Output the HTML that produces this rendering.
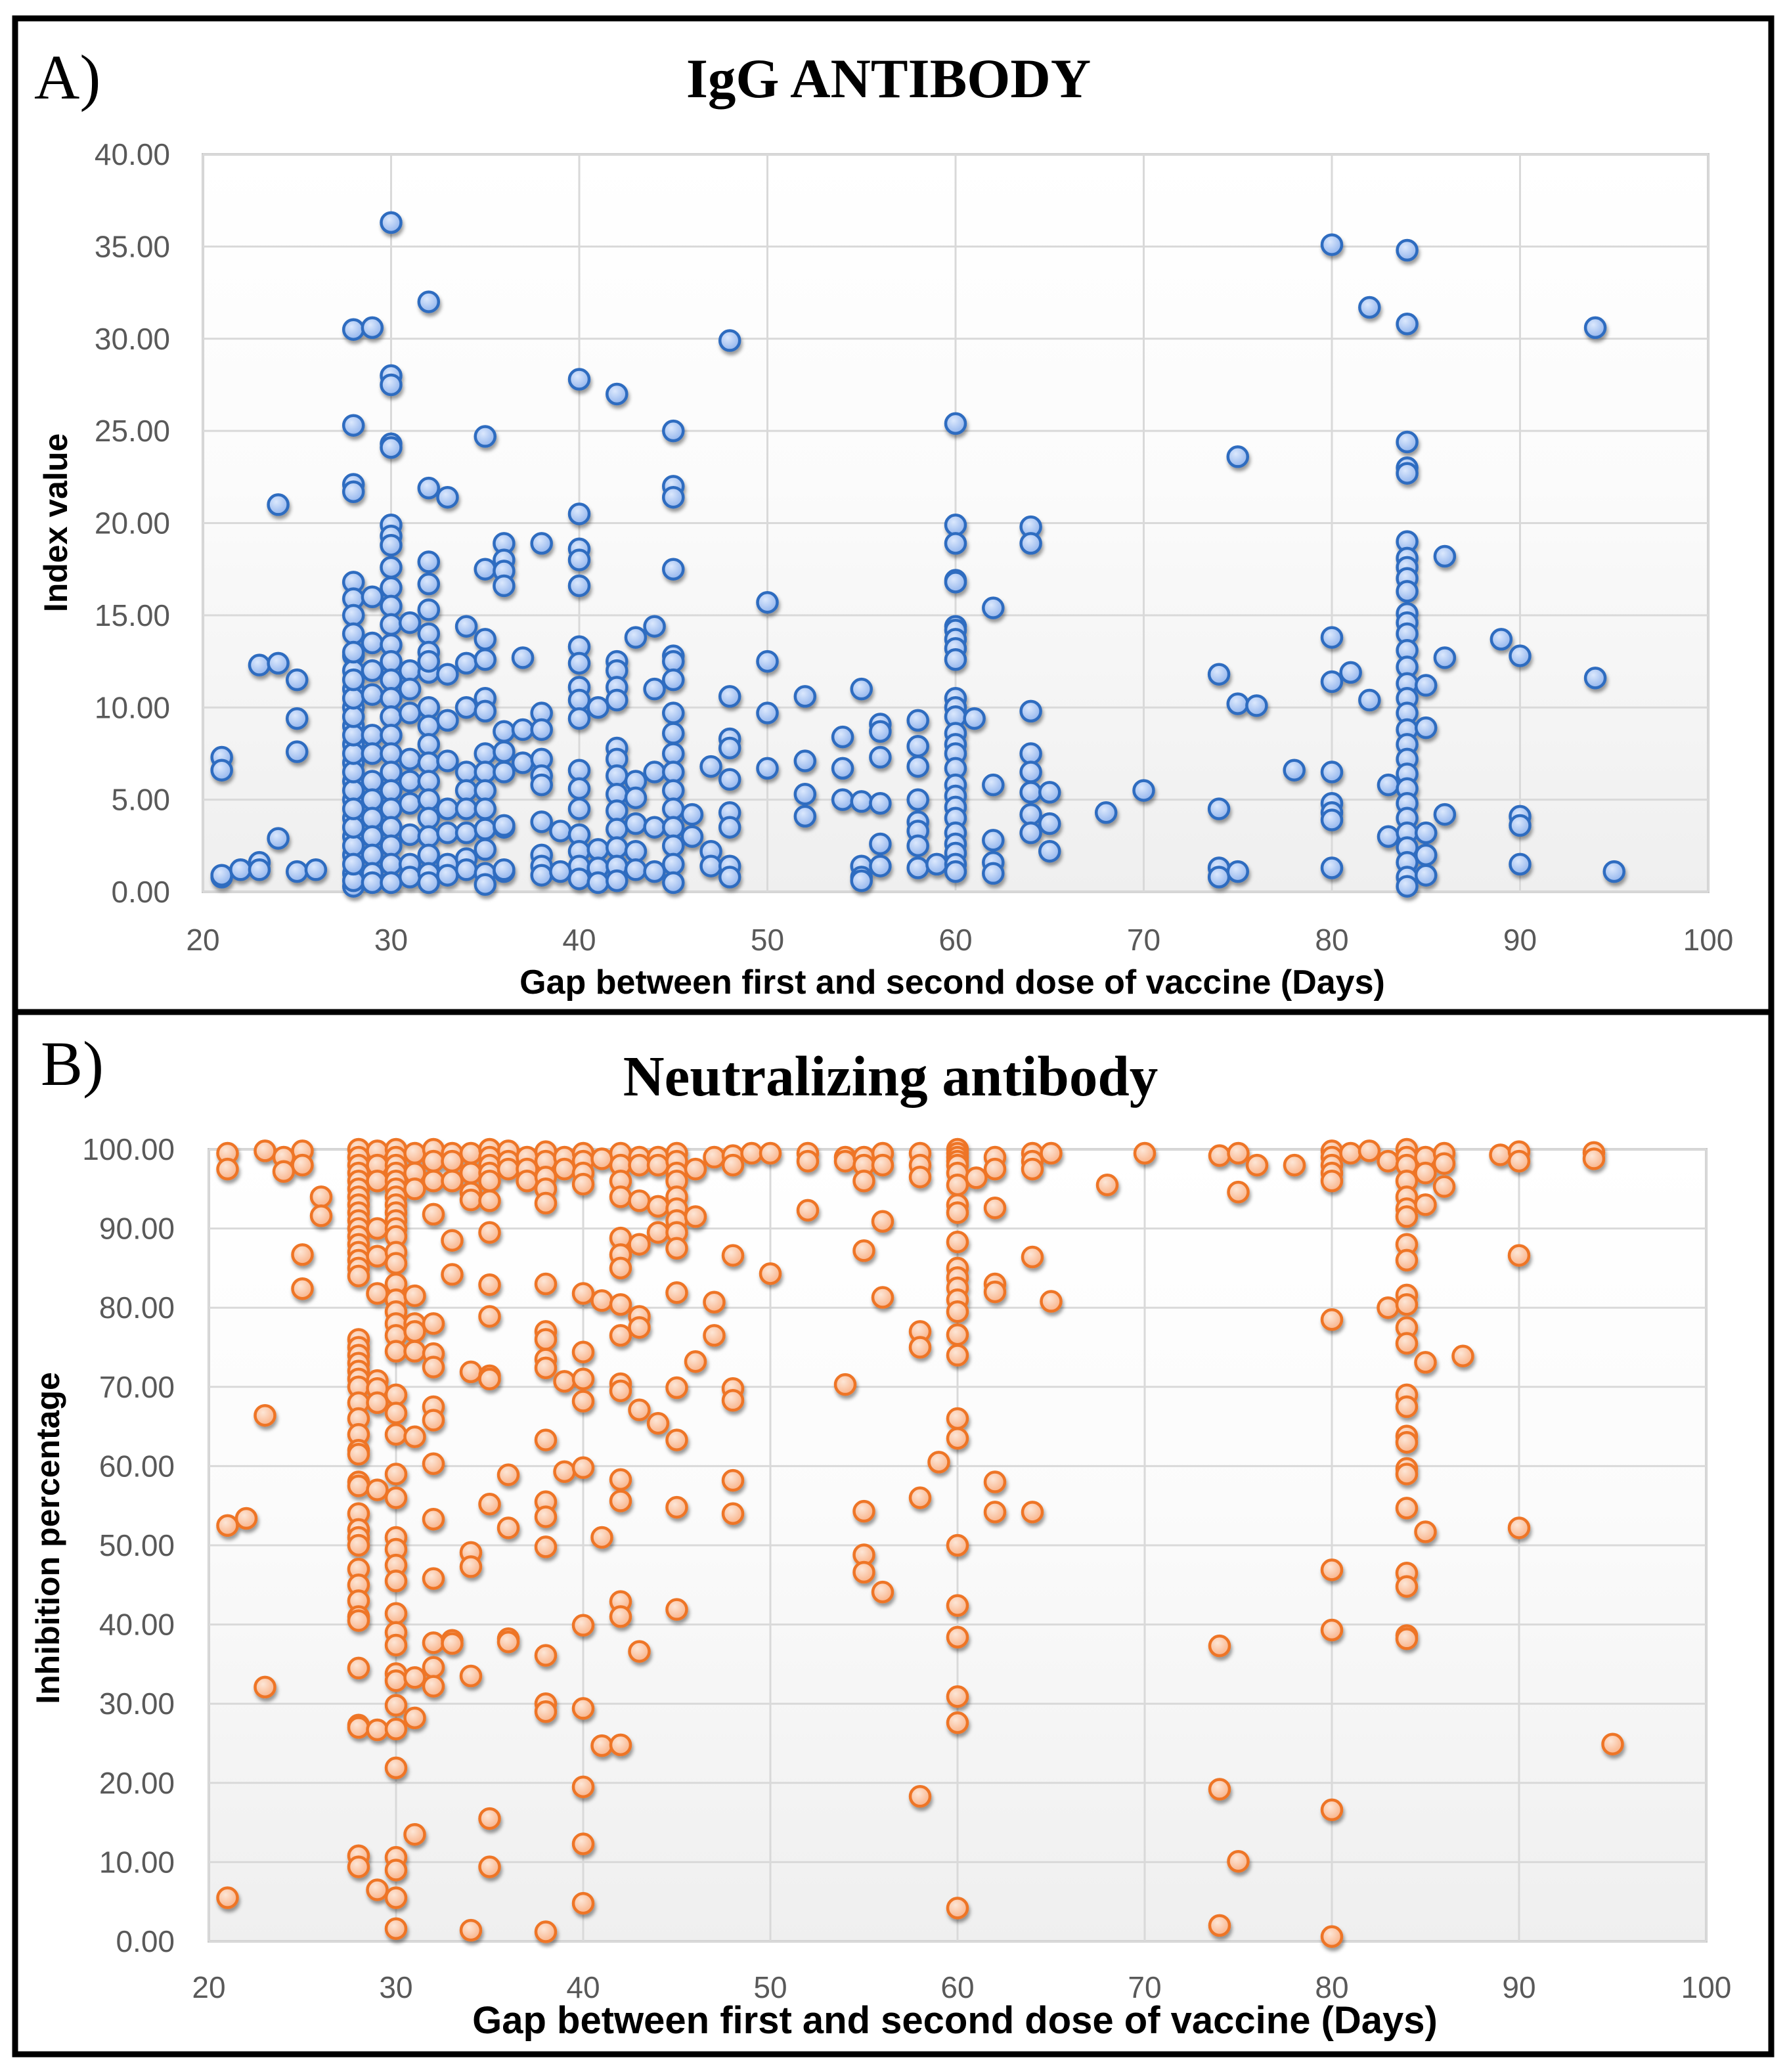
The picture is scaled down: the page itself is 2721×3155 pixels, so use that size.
<!DOCTYPE html>
<html><head><meta charset="utf-8">
<style>
html,body{margin:0;padding:0;background:#fff;}
svg{display:block;}
.tick{font-family:"Liberation Sans",sans-serif;font-size:46px;fill:#595959;}
.axt{font-family:"Liberation Sans",sans-serif;font-weight:bold;fill:#000;}
.ttl{font-family:"Liberation Serif",serif;font-weight:bold;fill:#000;}
.pl{font-family:"Liberation Serif",serif;fill:#000;}
</style></head>
<body>
<svg id="chart" width="2721" height="3155" viewBox="0 0 2721 3155" xmlns="http://www.w3.org/2000/svg">
<defs>
<linearGradient id="bgGrad" x1="0" y1="0" x2="0" y2="1">
<stop offset="0" stop-color="#ffffff"/><stop offset="0.45" stop-color="#fbfbfb"/><stop offset="1" stop-color="#efefef"/>
</linearGradient>
<radialGradient id="blueFill" cx="0.4" cy="0.35" r="0.7">
<stop offset="0" stop-color="#dbe8fd"/><stop offset="1" stop-color="#8fb2ec"/>
</radialGradient>
<radialGradient id="orangeFill" cx="0.4" cy="0.35" r="0.7">
<stop offset="0" stop-color="#fde6d6"/><stop offset="1" stop-color="#f9b086"/>
</radialGradient>
<filter id="shadow" x="-50%" y="-50%" width="200%" height="200%">
<feDropShadow dx="2" dy="5" stdDeviation="3" flood-color="#000" flood-opacity="0.4"/>
</filter>
</defs>
<rect x="23" y="28" width="2674" height="3100" fill="none" stroke="#000" stroke-width="9"/>
<line x1="23" y1="1541" x2="2697" y2="1541" stroke="#000" stroke-width="9"/>
<text class="pl" x="52" y="150" font-size="96">A)</text>
<text class="ttl" x="1353" y="148" font-size="85" text-anchor="middle">IgG ANTIBODY</text>
<text class="pl" x="62" y="1652" font-size="96">B)</text>
<text class="ttl" x="1356" y="1668" font-size="87" text-anchor="middle">Neutralizing antibody</text>
<g id="panelA"></g>
<g id="panelB"></g>
</svg>
<script>
// ---- Panel A data (IgG index value) ----
const gapsA = [21,22,23,24,25,26,28,29,30,31,32,33,34,35,36,37,38,39,40,41,42,43,44,45,46,47,48,50,52,54,55,56,58,59,60,61,62,64,65,68,70,74,75,76,78,80,81,82,83,84,85,86,89,90,94,95];
const iggValues = [
[7.3,6.6,0.8,0.9],[1.2],[12.3,1.6,1.2],[12.4,21.0,2.9],[11.5,9.4,7.6,1.1],[1.2],
[30.5,25.3,22.1,21.7,16.8,15.9,15.0,14.0,12.8,12.0,11.0,10.0,9.0,8.0,7.0,6.0,5.0,4.0,3.0,2.0,1.0,0.3,0.6,5.5,6.5,7.5,8.5,9.5,10.5,11.5,13.0,2.5,3.5,4.5,1.5],
[30.6,16.0,13.5,10.7,8.5,7.5,6.0,5.0,4.0,3.0,2.0,1.0,0.5,12.0],
[36.3,28.0,27.5,24.3,24.1,19.9,19.3,17.6,16.5,15.5,14.5,13.4,12.5,11.5,10.5,9.5,8.5,7.5,6.5,5.5,4.5,3.5,2.5,1.5,0.5,18.8],
[14.6,12.0,9.7,7.2,6.0,4.8,3.1,1.5,0.8,11.0],
[32.0,21.9,17.9,16.7,15.3,14.0,13.0,11.9,10.0,9.0,8.0,7.0,6.0,5.0,4.0,3.0,2.0,1.0,0.5,12.5],
[21.4,11.8,9.3,7.1,4.5,3.2,1.5,0.9],
[14.4,12.4,10.0,6.5,5.5,4.5,3.2,1.8,1.2],
[24.7,17.5,13.7,12.6,10.5,9.8,7.5,6.5,5.5,4.5,3.4,2.3,1.0,0.4],
[18.9,18.0,17.4,16.6,8.7,7.6,6.5,3.5,3.6,1.1,1.2],
[12.7,8.8,7.0],
[18.9,9.7,8.8,7.2,6.3,5.8,3.8,2.0,1.4,0.9],
[3.3,1.1],
[27.8,20.5,18.6,18.0,16.6,13.3,12.4,11.1,10.4,9.4,6.6,5.6,4.5,3.1,2.2,1.4,0.7],
[10.0,2.3,1.3,0.5],
[27.0,12.5,12.0,11.1,10.4,7.8,7.2,6.3,5.3,4.4,3.4,2.4,1.4,0.6],
[13.8,6.0,5.1,3.7,2.2,1.2],
[14.4,11.0,6.5,3.5,1.1],
[25.0,22.0,21.4,17.5,12.8,12.5,11.5,9.7,8.6,7.5,6.5,5.5,4.5,3.5,2.5,1.5,0.5],
[4.2,3.0],[6.8,2.2,1.4],
[29.9,10.6,8.3,7.8,6.1,4.3,3.5,1.4,0.8],
[15.7,12.5,9.7,6.7],[10.6,7.1,5.3,4.1],[8.4,6.7,5.0],[11.0,4.9,1.4,0.8,0.6],
[9.1,8.7,7.3,4.8,2.6,1.4],[9.3,7.9,6.8,5.0,3.8,3.3,2.5,1.3],[1.5],
[25.4,19.9,18.9,16.9,16.8,14.4,14.2,13.7,13.2,12.6,10.5,10.0,9.5,8.6,8.0,7.5,6.7,5.8,5.2,4.6,4.0,3.2,2.6,2.1,1.5,1.1],
[9.4],[15.4,5.8,2.8,1.6,1.0],[19.8,18.9,9.8,7.5,6.5,5.4,4.2,3.2],[5.4,3.7,2.2],[4.3],[5.5],
[11.8,4.5,1.3,0.8],[23.6,10.2,1.1],[10.1],[6.6],
[35.1,13.8,11.4,6.5,4.8,4.3,3.9,1.3],[11.9],[31.7,10.4],[5.8,3.0],
[34.8,30.8,24.4,23.0,22.7,19.0,18.1,17.6,17.0,16.3,15.1,14.6,14.0,13.1,12.2,11.3,10.5,9.7,8.8,8.0,7.2,6.4,5.6,4.8,4.0,3.2,2.4,1.6,0.8,0.3],
[11.2,8.9,3.2,2.0,0.9],[18.2,12.7,4.2],[13.7],[12.8,4.1,3.6,1.5],[30.6,11.6],[1.1]
];
const xTicksA = ["20","30","40","50","60","70","80","90","100"];
const yTicksA = ["0.00","5.00","10.00","15.00","20.00","25.00","30.00","35.00","40.00"];

// ---- Panel B data (inhibition percentage) ----
const gapsB = [21,22,23,24,25,26,28,29,30,31,32,33,34,35,36,37,38,39,40,41,42,43,44,45,46,47,48,49,50,52,54,55,56,58,59,60,61,62,64,65,68,70,74,75,76,78,80,81,82,83,84,85,86,87,89,90,94,95];
const inhibitionValues = [
[99.5,97.5,52.5,5.5],[53.4],[99.8,66.4,32.1],[99.0,97.2],[99.8,98.0,86.7,82.4],[94.0,91.6],
[100,99,98,97,96,95,94,93,92,91,90,89,88,87,86,85,84,76,75,74,73,72,71,70,68,66,64,62,61.5,58,57.5,54,52,51,50,47,45,43,41,40.5,34.5,27.3,27,10.8,9.4],
[99.8,98,96,90,86.5,81.8,70.8,69.8,68,57,26.7,6.5],
[100,99,98,97,96,95,94,93,92,91,90,89,87,85.6,83,81,79.5,78,76.5,74.5,69,66.7,64,59,56,51,49.5,47.5,45.5,41.4,39,37.4,33.8,32.9,29.8,26.8,21.9,10.6,9,5.5,1.6],
[99.5,97,95,81.5,78,77,74.5,63.7,33.3,28.2,13.5],
[100,98.5,96,91.8,78,74.2,72.5,67.5,65.8,60.3,53.3,45.8,37.7,34.6,32.2],
[99.5,98.5,96,88.5,84.2,38,37.6],
[99.5,97,94.5,93.6,71.9,49.1,47.3,33.5,1.4],
[100,99,98,97,96,93.5,89.5,82.9,78.9,71.4,71,55.2,15.5,9.4],
[99.8,98.5,97.5,58.9,52.2,38.2,37.8],
[99,97.5,96],
[99.7,98.5,96.5,95,93.2,83,77,76,73.5,72.4,63.3,55.5,53.6,49.8,36.1,30,29,1.2],
[99,97.5,70.7,59.3],
[99.5,98.5,97,95.6,81.8,74.4,71,68.2,59.8,39.9,29.4,19.5,12.3,4.8],
[98.8,80.9,51,24.7],
[99.5,98,96,94,88.8,86.7,85,80.4,76.5,70.4,69.5,58.3,55.6,42.9,41,24.8],
[99,98,93.5,88,78.9,77.5,67.1,36.6],
[99,98,92.8,89.5,65.4],
[99.5,98.5,97,96,94,92.5,91,89.5,87.5,81.9,69.9,63.3,54.8,41.9],
[97.5,91.5,73.2],[99,80.7,76.5],[99.2,98,86.6,69.8,68.3,58.2,54],[99.5],[99.5,84.3],
[99.5,98.5,92.3],[99,98.5,70.3],[99,98,96,87.2,54.3,48.8,46.6],[99.5,98,90.9,81.3,44.1],
[99.5,98,96.5,77,75,56,18.3],[60.5],
[100,99.5,99,98.5,98,97,95.5,93,92,88.3,85,83.8,82.5,81,79.5,76.6,74,66,63.5,50,42.4,38.4,30.9,27.6,4.2],
[96.4],[99,97.5,92.6,83,82,58,54.2],[99.5,98.5,97.5,86.4,54.2],[99.5,80.8],[95.5],[99.5],
[99.2,37.3,19.2,2],[99.5,94.6,10.1],[98],[98],
[99.8,99,98,97,96,78.5,46.9,39.3,16.6,0.6],[99.5],[99.8],[98.5,80],
[100,99,98,96,94,92.5,91.5,88,86,81.6,80.4,77.5,75.5,69,67.5,63.8,63,59.7,59,54.7,46.5,44.8,38.6,38.2],
[99,97,93,73.1,51.7],[99.5,98.2,95.3],[73.9],[99.3],[99.7,98.5,86.6,52.2],[99.6,98.8],[24.9]
];
const xTicksB = ["20","30","40","50","60","70","80","90","100"];
const yTicksB = ["0.00","10.00","20.00","30.00","40.00","50.00","60.00","70.00","80.00","90.00","100.00"];

const NS = "http://www.w3.org/2000/svg";
function mk(tag, attrs, parent){
  const e = document.createElementNS(NS, tag);
  for (const k in attrs) e.setAttribute(k, attrs[k]);
  parent.appendChild(e);
  return e;
}

function drawPanel(g, cfg){
  const xs = v => cfg.left + (v - cfg.xMin) / (cfg.xMax - cfg.xMin) * (cfg.right - cfg.left);
  const ys = v => cfg.bottom - (v - cfg.yMin) / (cfg.yMax - cfg.yMin) * (cfg.bottom - cfg.top);
  const bg = mk('rect', {x:cfg.left, y:cfg.top, width:cfg.right-cfg.left, height:cfg.bottom-cfg.top, fill:'url(#bgGrad)', stroke:'#c9c9c9', 'stroke-width':4}, g);
  
  
  cfg.yTicks.forEach(t => {
    const v = parseFloat(t), y = ys(v);
    const ln = mk('line', {x1:cfg.left, x2:cfg.right, y1:y, y2:y, stroke:'#d9d9d9', 'stroke-width':3}, g);
    
    
    const tx = mk('text', {x:cfg.yLabelX, y:y+16, 'text-anchor':'end', class:'tick'}, g);
    
    
    tx.textContent = t;
  });
  cfg.xTicks.forEach(t => {
    const v = parseFloat(t), x = xs(v);
    const ln = mk('line', {x1:x, x2:x, y1:cfg.top, y2:cfg.bottom, stroke:'#d9d9d9', 'stroke-width':3}, g);
    
    
    const tx = mk('text', {x:x, y:cfg.xLabelY, 'text-anchor':'middle', class:'tick'}, g);
    
    
    tx.textContent = t;
  });
  const pts = mk('g', {filter:'url(#shadow)'}, g);
  
  
  cfg.gaps.forEach((gx, i) => {
    cfg.values[i].forEach(v => {
      const c = mk('circle', {cx:xs(gx), cy:ys(v), r:15, fill:cfg.fill, stroke:cfg.stroke, 'stroke-width':4.5}, pts);
      
      
    });
  });
  const xt = mk('text', {x:cfg.xTitleX, y:cfg.xTitleY, 'text-anchor':'middle', class:'axt', 'font-size':cfg.xTitleSize}, g);
  
  
  xt.textContent = 'Gap between first and second dose of vaccine (Days)';
  const yt = mk('text', {x:0, y:0, 'text-anchor':'middle', class:'axt', 'font-size':cfg.yTitleSize, transform:'translate('+cfg.yTitleX+','+cfg.yTitleY+') rotate(-90)'}, g);
  
  
  yt.textContent = cfg.yTitle;
}

drawPanel(document.getElementById('panelA'), {
  left:309, right:2601, top:235, bottom:1358, xMin:20, xMax:100, yMin:0, yMax:40,
  xTicks:xTicksA, yTicks:yTicksA, gaps:gapsA, values:iggValues,
  fill:'url(#blueFill)', stroke:'#2f6cc0', yLabelX:259, xLabelY:1447,
  xTitleX:1450, xTitleY:1513, xTitleSize:52, yTitle:'Index value', yTitleX:102, yTitleY:796, yTitleSize:50
});
drawPanel(document.getElementById('panelB'), {
  left:318, right:2598, top:1750, bottom:2956, xMin:20, xMax:100, yMin:0, yMax:100,
  xTicks:xTicksB, yTicks:yTicksB, gaps:gapsB, values:inhibitionValues,
  fill:'url(#orangeFill)', stroke:'#ee7426', yLabelX:266, xLabelY:3042,
  xTitleX:1454, xTitleY:3096, xTitleSize:58, yTitle:'Inhibition percentage', yTitleX:90, yTitleY:2342, yTitleSize:50
});
</script>
</body></html>
